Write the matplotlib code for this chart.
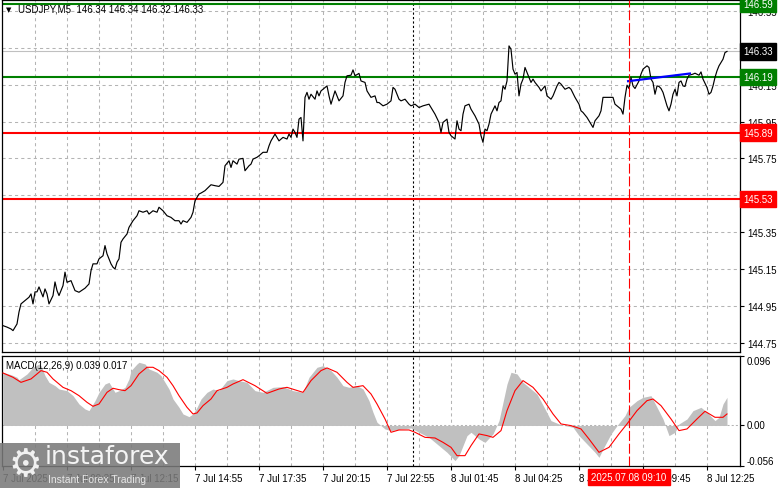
import numpy as np
import matplotlib
matplotlib.use('Agg')
import matplotlib.pyplot as plt
from matplotlib.patches import Rectangle
import matplotlib.transforms as mtransforms

# ---------------- data ----------------
price_idx = [0, 2, 4, 5, 7, 8, 9, 11, 13, 14, 15, 16, 17, 18, 20, 21, 22, 23, 25, 26, 27, 28, 30, 31, 32, 34,
             36, 38, 41, 43, 44, 45, 47, 48, 50, 51, 52, 54, 55, 56, 57, 58, 59, 60, 62, 63, 65, 67, 68, 70, 72,
             73, 75, 77, 78, 80, 82, 84, 86, 88, 89, 90, 92, 94, 95, 96, 98, 99, 101, 104, 106, 108, 110, 111,
             113, 114, 115, 117, 118, 120, 121, 123, 124, 125, 127, 128, 130, 132, 133, 134, 136, 137, 138, 140,
             142, 143, 144, 145, 146, 147, 148, 149, 150, 151, 152, 153, 154, 156, 157, 158, 159, 160, 162, 163,
             164, 166, 167, 168, 170, 171, 172, 174, 175, 176, 178, 179, 181, 182, 184, 186, 187, 188, 190, 192,
             194, 195, 196, 198, 199, 201, 203, 204, 206, 208, 210, 213, 214, 216, 218, 219, 220, 222, 223, 224,
             226, 227, 228, 229, 230, 231, 233, 234, 236, 238, 239, 240, 241, 242, 243, 244, 246, 247, 248, 249,
             250, 251, 252, 253, 254, 255, 256, 257, 258, 259, 260, 261, 262, 264, 265, 266, 268, 269, 271, 272,
             274, 275, 277, 278, 279, 281, 283, 284, 286, 288, 289, 290, 292, 294, 295, 296, 298, 299, 300, 303,
             305, 306, 308, 309, 310, 311, 312, 313, 314, 315, 316, 318, 319, 320, 322, 323, 324, 325, 326, 327,
             328, 329, 330, 331, 332, 333, 334, 335, 336, 337, 338, 339, 340, 341, 342, 343, 345, 346, 348, 349,
             350, 352, 353, 354, 355, 356, 357, 358, 360, 361, 362]
price_close = [144.843, 144.835, 144.825, 144.816, 144.852, 144.917, 144.961, 144.979, 144.997, 145.015, 144.961,
               145.026, 145.026, 145.053, 144.999, 145.042, 145.015, 144.961, 145.006, 145.080, 145.033, 145.006,
               145.060, 145.133, 145.078, 145.087, 145.033, 145.024, 145.046, 145.069, 145.141, 145.178, 145.178,
               145.205, 145.222, 145.277, 145.232, 145.178, 145.160, 145.150, 145.187, 145.205, 145.295, 145.313,
               145.340, 145.376, 145.412, 145.439, 145.466, 145.458, 145.466, 145.448, 145.466, 145.458, 145.485,
               145.466, 145.439, 145.430, 145.412, 145.412, 145.394, 145.412, 145.403, 145.430, 145.458, 145.520,
               145.557, 145.562, 145.575, 145.607, 145.602, 145.598, 145.620, 145.710, 145.737, 145.701, 145.737,
               145.719, 145.746, 145.750, 145.683, 145.710, 145.719, 145.746, 145.756, 145.764, 145.783, 145.783,
               145.818, 145.845, 145.882, 145.864, 145.845, 145.864, 145.855, 145.882, 145.864, 145.909, 145.891,
               145.864, 145.963, 145.972, 145.845, 146.081, 146.108, 146.071, 146.098, 146.071, 146.116, 146.089,
               146.116, 146.125, 146.143, 146.089, 146.044, 146.116, 146.089, 146.062, 146.089, 146.162, 146.198,
               146.201, 146.230, 146.198, 146.211, 146.170, 146.162, 146.116, 146.081, 146.089, 146.053, 146.053,
               146.035, 146.044, 146.062, 146.135, 146.125, 146.071, 146.062, 146.071, 146.044, 146.035, 146.044,
               146.026, 146.035, 146.044, 146.026, 145.990, 145.945, 145.891, 145.945, 145.963, 145.891, 145.873,
               145.855, 145.954, 145.909, 145.900, 145.990, 146.035, 146.044, 146.017, 145.981, 145.936, 145.873,
               145.837, 145.909, 145.900, 145.936, 145.990, 146.035, 146.008, 146.053, 146.062, 146.143, 146.125,
               146.170, 146.360, 146.342, 146.234, 146.207, 146.216, 146.089, 146.153, 146.180, 146.243, 146.216,
               146.162, 146.180, 146.162, 146.135, 146.116, 146.143, 146.089, 146.071, 146.089, 146.143, 146.162,
               146.153, 146.125, 146.135, 146.125, 146.081, 146.044, 146.008, 145.999, 145.972, 145.936, 145.918,
               145.954, 145.981, 146.008, 146.081, 146.081, 146.081, 146.044, 146.026, 146.017, 145.990, 146.081,
               146.147, 146.129, 146.189, 146.143, 146.129, 146.170, 146.207, 146.234, 146.252, 146.243, 146.180,
               146.162, 146.098, 146.143, 146.140, 146.129, 146.108, 146.071, 146.035, 146.008, 146.044, 146.098,
               146.125, 146.089, 146.162, 146.170, 146.143, 146.140, 146.180, 146.201, 146.207, 146.212, 146.201,
               146.219, 146.180, 146.135, 146.098, 146.108, 146.143, 146.189, 146.225, 146.252, 146.288, 146.324,
               146.330]

hist_idx = [0, 4, 7, 8, 12, 15, 18, 19, 21, 23, 26, 28, 32, 35, 38, 41, 43, 46, 48, 51, 53, 54, 56, 58, 61, 63,
            64, 67, 68, 71, 73, 77, 79, 81, 83, 85, 88, 90, 93, 95, 97, 99, 102, 105, 108, 112, 115, 118, 122,
            126, 130, 135, 140, 145, 150, 153, 157, 160, 164, 167, 170, 173, 177, 180, 183, 185, 187, 191, 194,
            199, 204, 208, 213, 218, 222, 226, 228, 232, 234, 238, 241, 245, 248, 252, 254, 257, 260, 264, 267,
            271, 274, 278, 281, 285, 288, 292, 296, 298, 300, 304, 307, 311, 313, 317, 320, 324, 327, 330, 333,
            336, 338, 342, 345, 349, 352, 356, 358, 360, 362]
hist_val = [0.0735, 0.0702, 0.0666, 0.0633, 0.0712, 0.0804, 0.0850, 0.0827, 0.0689, 0.0596, 0.0550, 0.0504,
            0.0481, 0.0412, 0.0297, 0.0228, 0.0205, 0.0343, 0.0458, 0.0573, 0.0596, 0.0550, 0.0458, 0.0481,
            0.0527, 0.0643, 0.0758, 0.0850, 0.0873, 0.0850, 0.0781, 0.0735, 0.0689, 0.0596, 0.0504, 0.0366,
            0.0251, 0.0159, 0.0122, 0.0159, 0.0251, 0.0366, 0.0458, 0.0504, 0.0481, 0.0620, 0.0643, 0.0620,
            0.0596, 0.0481, 0.0458, 0.0527, 0.0537, 0.0481, 0.0458, 0.0666, 0.0804, 0.0827, 0.0758, 0.0666,
            0.0550, 0.0527, 0.0550, 0.0504, 0.0343, 0.0182, 0.0044, -0.0048, -0.0071, -0.0048, -0.0035,
            -0.0094, -0.0164, -0.0279, -0.0371, -0.0486, -0.0417, -0.0140, -0.0094, -0.0187, -0.0233, -0.0117,
            0.0067, 0.0573, 0.0735, 0.0712, 0.0596, 0.0504, 0.0435, 0.0228, 0.0067, 0.0021, -0.0002, -0.0025,
            -0.0140, -0.0256, -0.0371, -0.0440, -0.0325, -0.0117, -0.0002, 0.0136, 0.0251, 0.0343, 0.0389,
            0.0412, 0.0251, 0.0090, -0.0140, -0.0094, 0.0021, 0.0090, 0.0205, 0.0251, 0.0182, 0.0067, 0.0113,
            0.0297, 0.0389]

signal_idx = [0, 5, 9, 14, 19, 22, 25, 30, 34, 38, 42, 45, 48, 52, 55, 58, 61, 64, 68, 72, 75, 78, 82, 85, 88,
              92, 95, 97, 100, 104, 107, 112, 115, 120, 126, 132, 138, 142, 150, 154, 159, 162, 167, 172, 175,
              180, 184, 187, 191, 194, 198, 203, 206, 211, 216, 220, 224, 227, 231, 234, 238, 242, 245, 249,
              252, 256, 260, 265, 270, 275, 279, 284, 289, 293, 298, 303, 308, 312, 317, 322, 325, 329, 334,
              338, 342, 347, 351, 356, 360, 362]
signal_val = [0.0725, 0.0666, 0.0596, 0.0643, 0.0758, 0.0735, 0.0643, 0.0527, 0.0481, 0.0412, 0.0320, 0.0265,
              0.0297, 0.0458, 0.0514, 0.0495, 0.0481, 0.0550, 0.0712, 0.0804, 0.0804, 0.0758, 0.0666, 0.0550,
              0.0412, 0.0251, 0.0159, 0.0173, 0.0274, 0.0366, 0.0481, 0.0527, 0.0573, 0.0633, 0.0550, 0.0444,
              0.0504, 0.0527, 0.0458, 0.0620, 0.0758, 0.0795, 0.0735, 0.0596, 0.0527, 0.0550, 0.0435, 0.0297,
              0.0090, -0.0094, -0.0062, -0.0062, -0.0094, -0.0164, -0.0173, -0.0233, -0.0302, -0.0417, -0.0417,
              -0.0279, -0.0117, -0.0140, -0.0164, -0.0071, 0.0205, 0.0481, 0.0620, 0.0527, 0.0366, 0.0159,
              0.0021, -0.0002, -0.0048, -0.0187, -0.0371, -0.0302, -0.0117, 0.0021, 0.0205, 0.0343, 0.0366,
              0.0274, 0.0090, -0.0071, -0.0048, 0.0090, 0.0196, 0.0113, 0.0113, 0.0159]

green_levels = [146.59, 146.19]
red_levels = [145.89, 145.53]
current_price = 146.33
trend_idx = [312, 344]
trend_price = [146.168, 146.211]

price_ticks = [144.75, 144.95, 145.15, 145.35, 145.55, 145.75, 145.95, 146.15, 146.35, 146.55]
macd_ticks = [-0.056, 0.0, 0.096]
macd_tick_labels = ['-0.056', '0.00', '0.096']

time_tick_idx = [0, 32, 64, 96, 128, 160, 192, 224, 256, 288, 320, 352]
time_tick_labels = ['7 Jul 2025', '7 Jul 09:35', '7 Jul 12:15', '7 Jul 14:55', '7 Jul 17:35', '7 Jul 20:15',
                    '7 Jul 22:55', '8 Jul 01:45', '8 Jul 04:25', '8 Jul 07:05', '8 Jul 09:45', '8 Jul 12:25']
grid_idx = list(range(16, 368, 16))
day_sep_idx = 205
cursor_idx = 313
cursor_label = '2025.07.08 09:10'

title_text = 'USDJPY,M5  146.34 146.34 146.32 146.33'
macd_text = 'MACD(12,26,9) 0.039 0.017'

# ---------------- figure ----------------
plt.rcParams['font.family'] = ['Liberation Sans', 'DejaVu Sans']
W, H = 781, 489
fig = plt.figure(figsize=(W / 100, H / 100), dpi=100)
fig.patch.set_facecolor('white')


def px_axes(x0, y0, x1, y1):
    return fig.add_axes([x0 / W, 1 - y1 / H, (x1 - x0) / W, (y1 - y0) / H])


ax1 = px_axes(2, 1, 740, 353)
ax2 = px_axes(2, 357, 740, 467)

GRID = '#b4b4b4'
FS = 7

for ax in (ax1, ax2):
    ax.set_xlim(-0.5, 368.5)
    ax.set_facecolor('white')
    for s in ax.spines.values():
        s.set_color('black')
        s.set_linewidth(0.9)
    for g in grid_idx:
        ax.axvline(g, color=GRID, ls=(0, (3, 3)), lw=0.75, zorder=0)
    ax.axvline(day_sep_idx, color='black', ls=(0, (2, 2)), lw=0.8, zorder=1)
    ax.axvline(cursor_idx, color='red', ls=(0, (9, 2.5)), lw=0.8, zorder=4)

# price panel
ax1.set_ylim(144.700, 146.609)
for t in price_ticks:
    ax1.axhline(t, color=GRID, ls=(0, (3, 3)), lw=0.75, zorder=0)
ax1.axhline(current_price, color='#c0c0c0', lw=0.8, zorder=1)
for lv in green_levels:
    ax1.axhline(lv, color='#008000', lw=1.5, zorder=2)
for lv in red_levels:
    ax1.axhline(lv, color='#ff0000', lw=1.5, zorder=2)
ax1.plot(price_idx, price_close, color='black', lw=0.85, zorder=3)
ax1.plot(trend_idx, trend_price, color='#0000ff', lw=1.6, zorder=3.5, solid_capstyle='butt')

ax1.set_xticks([])
ax1.yaxis.tick_right()
ax1.set_yticks(price_ticks)
ax1.set_yticklabels([f'{t:.2f}' for t in price_ticks])
ax1.tick_params(axis='y', length=3, width=0.8, pad=2, labelsize=FS, colors='black')

boxes = [(green_levels[0], '#008000'), (current_price, '#000000'), (green_levels[1], '#008000'),
         (red_levels[0], '#ff0000'), (red_levels[1], '#ff0000')]
for val, col in boxes:
    ax1.text(1.0045, val, f'{val:.2f}', transform=ax1.get_yaxis_transform(), color='white',
             fontsize=FS, va='center', ha='left', clip_on=False, zorder=6,
             bbox=dict(boxstyle='square,pad=0.32', fc=col, ec=col))

# MACD panel
ax2.set_ylim(-0.056, 0.096)
ax2.axhline(0, color=GRID, ls=(0, (2, 2)), lw=0.75, zorder=0)
ax2.fill_between(hist_idx, 0, hist_val, color='#c0c0c0', lw=0, zorder=1)
ax2.plot(signal_idx, signal_val, color='#ff0000', lw=0.8, zorder=3)

ax2.yaxis.tick_right()
ax2.set_yticks(macd_ticks)
ax2.set_yticklabels(macd_tick_labels)
ax2.tick_params(axis='y', length=3, width=0.8, pad=2, labelsize=FS, colors='black')
for lbl, va in zip(ax2.get_yticklabels(), ['bottom', 'center', 'top']):
    lbl.set_va(va)

ax2.set_xticks(time_tick_idx)
ax2.set_xticklabels(time_tick_labels)
ax2.tick_params(axis='x', length=3, width=0.8, pad=2, labelsize=FS, colors='black')
for lbl in ax2.get_xticklabels():
    lbl.set_ha('left')

trans = mtransforms.blended_transform_factory(ax2.transData, ax2.transAxes)
ax2.text(cursor_idx, -0.1, cursor_label, transform=trans, ha='center', va='center', color='white',
         fontsize=FS, clip_on=False, zorder=8,
         bbox=dict(boxstyle='square,pad=0.3', fc='#ff0000', ec='#ff0000'))

# titles
fig.text(6 / W, 1 - 10 / H, '\u25bc', fontsize=5, va='center', ha='left', family=['DejaVu Sans'])
fig.text(18 / W, 1 - 10 / H, title_text, fontsize=FS, va='center', ha='left')
fig.text(6 / W, 1 - 366 / H, macd_text, fontsize=FS, va='center', ha='left')

# logo
fig.add_artist(Rectangle((0, 0), 180 / W, 45 / H, transform=fig.transFigure, fc='#7a7a7a',
                         ec='none', alpha=0.88, zorder=10))
fig.text(25 / W, 1 - 466 / H, '\u2699', fontsize=27, color='#f0f0f0', ha='center', va='center',
         family=['DejaVu Sans'], zorder=11)
fig.text(45 / W, 1 - 457 / H, 'instaforex', fontsize=18, color='#f4f4f4', ha='left', va='center',
         family=['DejaVu Sans'], zorder=11)
fig.text(48 / W, 1 - 480 / H, 'Instant Forex Trading', fontsize=7.5, color='#e6e6e6', ha='left',
         va='center', zorder=11)

fig.savefig('out.png', dpi=100, facecolor='white')
